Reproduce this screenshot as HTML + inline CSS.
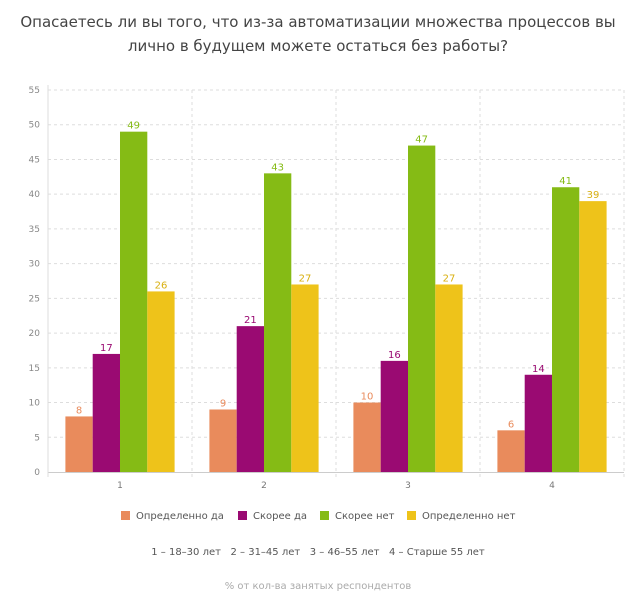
<!DOCTYPE html>
<html><head><meta charset="utf-8"><style>
body{margin:0;background:#fff;width:637px;height:600px;overflow:hidden;font-family:"DejaVu Sans","Liberation Sans",sans-serif}
</style></head><body>
<svg id="chart" width="637" height="600" xmlns="http://www.w3.org/2000/svg" font-family="DejaVu Sans, Liberation Sans, sans-serif">
<text x="318" y="27" text-anchor="middle" font-size="15" fill="#444">Опасаетесь ли вы того, что из-за автоматизации множества процессов вы</text>
<text x="318" y="51" text-anchor="middle" font-size="15" fill="#444">лично в будущем можете остаться без работы?</text>
<g id="grid"></g><g id="bars"></g><g id="labels"></g>
<g font-size="10" fill="#555">
<rect x="121" y="511" width="9" height="9" fill="#E98B5C"/><text x="136" y="519">Определенно да</text>
<rect x="238" y="511" width="9" height="9" fill="#9A0A72"/><text x="253" y="519">Скорее да</text>
<rect x="320" y="511" width="9" height="9" fill="#85BB15"/><text x="335" y="519">Скорее нет</text>
<rect x="407" y="511" width="9" height="9" fill="#EEC31A"/><text x="422" y="519">Определенно нет</text>
</g>
<text x="318" y="555" text-anchor="middle" font-size="10" fill="#555">1 – 18–30 лет &#160;&#160;2 – 31–45 лет &#160;&#160;3 – 46–55 лет &#160;&#160;4 – Старше 55 лет</text>
<text x="318" y="589" text-anchor="middle" font-size="10" fill="#aaa">% от кол-ва занятых респондентов</text>
</svg>
<script>
const categories=["1","2","3","4"];
const seriesNames=["Определенно да","Скорее да","Скорее нет","Определенно нет"];
const s1=[8,9,10,6];
const s2=[17,21,16,14];
const s3=[49,43,47,41];
const s4=[26,27,27,39];
const yTicks=[0,5,10,15,20,25,30,35,40,45,50,55];
const colors=["#E98B5C","#9A0A72","#85BB15","#EEC31A"];
const labelColors=["#E98B5C","#9A0A72","#85BB15","#D9B010"];
const NS="http://www.w3.org/2000/svg";
const x0=48,x1=624,y0=472,yTop=90,ymax=55;
const gw=(x1-x0)/categories.length,bw=27.3;
const y=v=>y0-(y0-yTop)*v/ymax;
const gx=i=>x0+gw*i;
function mk(t,a,p){const e=document.createElementNS(NS,t);for(const k in a)e.setAttribute(k,a[k]);p.appendChild(e);return e;}
const grid=document.getElementById('grid'),bars=document.getElementById('bars'),labels=document.getElementById('labels');
yTicks.forEach(v=>{
 if(v>0){const l=mk('line',{x1:x0,x2:x1,y1:y(v),y2:y(v),stroke:'#ddd','stroke-dasharray':'3,3'},grid);
 
 }
 const t=mk('text',{x:x0-8,y:y(v)+3,'text-anchor':'end','font-size':9,fill:'#888'},grid);t.textContent=v;
 
 
});
for(let i=1;i<=categories.length;i++){const l=mk('line',{x1:gx(i),x2:gx(i),y1:yTop,y2:y0+5,stroke:'#ddd','stroke-dasharray':'3,3'},grid);
 
 }
const ax=mk('line',{x1:x0,x2:x1,y1:y0+0.5,y2:y0+0.5,stroke:'#ccc'},grid);


const ay=mk('line',{x1:x0,x2:x0,y1:yTop-5,y2:y0+5,stroke:'#ddd'},grid);


const series=[s1,s2,s3,s4];
categories.forEach((c,i)=>{
 const cx=gx(i)+gw/2;
 const t=mk('text',{x:cx,y:y0+16,'text-anchor':'middle','font-size':9,fill:'#777'},labels);t.textContent=c;
 
 
 series.forEach((s,j)=>{
  const bx=cx-2*bw+j*bw;
  const r=mk('rect',{x:bx,y:y(s[i]),width:bw,height:y0-y(s[i]),fill:colors[j]},bars);
  
  
  const lt=mk('text',{x:bx+bw/2,y:y(s[i])-3,'text-anchor':'middle','font-size':10,fill:labelColors[j]},labels);lt.textContent=s[i];
  
  
 });
});
</script>
</body></html>
